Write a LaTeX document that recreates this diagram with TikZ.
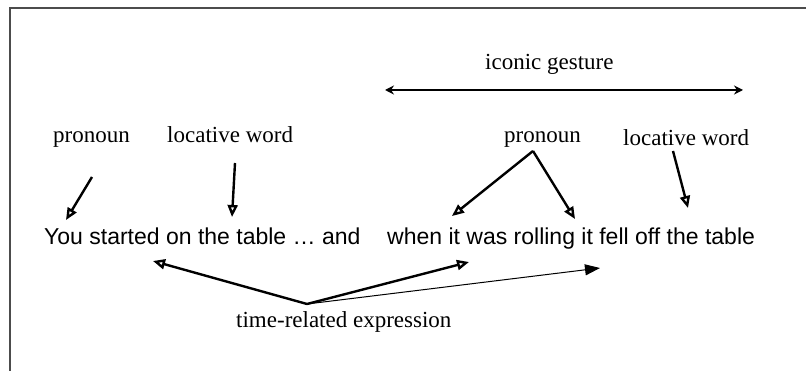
\documentclass[tikz,border=0pt]{standalone}
\usepackage{fontspec}
\setmainfont{Liberation Serif}
\newfontfamily\arialfont{Liberation Sans}
\usetikzlibrary{arrows.meta}
\begin{document}
\begin{tikzpicture}[x=1pt,y=-1pt,
  lbl/.style={font=\fontsize{23}{26}\selectfont, inner sep=0pt, anchor=base west},
  sent/.style={font=\arialfont\fontsize{23}{26}\selectfont, inner sep=0pt, anchor=base west},
  openarr/.style={line width=2.4pt, -{Triangle[open, length=12pt, width=10pt]}},
  fillarr/.style={line width=1pt, -{Triangle[length=15pt, width=11pt]}},
  gestarr/.style={line width=1.8pt, {Stealth[length=9pt, width=9pt, inset=3pt]}-{Stealth[length=9pt, width=9pt, inset=3pt]}},
  frame/.style={draw=black!70, line width=1.2pt}]
\useasboundingbox (0,0) rectangle (806,371);
\draw[frame] (10,371) -- (10,8) -- (806,8);
% labels
\node[lbl] (iconic) at (485,70) {iconic gesture};
\node[lbl] (pron1) at (53,143) {pronoun};
\node[lbl] (loc1) at (167,143) {locative word};
\node[lbl] (pron2) at (504,143) {pronoun};
\node[lbl] (loc2) at (623,146) {locative word};
\node[lbl] (time) at (236,327) {time-related expression};
% sentence
\node[sent] (s1) at (44,245) {You started on the table \ldots{} and};
\node[sent] (s2) at (387,245) {when it was rolling it fell off the table};
% coordinates
\coordinate (gL) at (385,90);
\coordinate (gR) at (743,90);
\coordinate (p1a) at (92,177);
\coordinate (p1b) at (66,220);
\coordinate (l1a) at (235,163);
\coordinate (l1b) at (232,217);
\coordinate (p2a) at (533,151);
\coordinate (p2b) at (452,216);
\coordinate (p2c) at (575,219);
\coordinate (l2a) at (673,151);
\coordinate (l2b) at (688,208);
\coordinate (t0) at (307,304);
\coordinate (t1) at (153,261);
\coordinate (t2) at (469,262);
\coordinate (t3) at (600,268);
% arrows
\draw[gestarr] (gL) -- (gR);
\draw[openarr] (p1a) -- (p1b);
\draw[openarr] (l1a) -- (l1b);
\draw[openarr] (p2a) -- (p2b);
\draw[openarr] (p2a) -- (p2c);
\draw[openarr] (l2a) -- (l2b);
\draw[openarr] (t0) -- (t1);
\draw[openarr] (t0) -- (t2);
\draw[fillarr] (t0) -- (t3);
\end{tikzpicture}
\end{document}
